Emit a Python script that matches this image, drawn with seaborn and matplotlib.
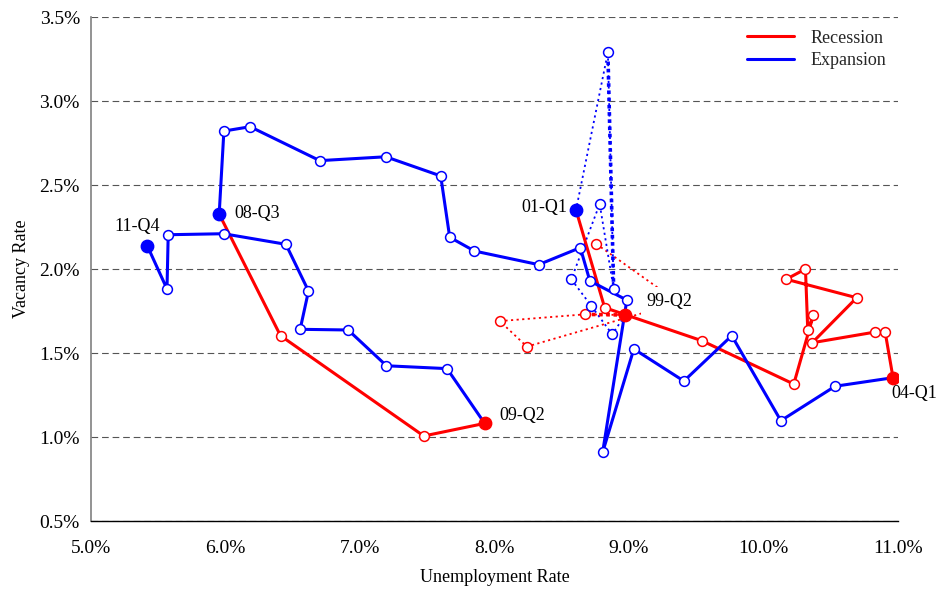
import matplotlib
matplotlib.use("Agg")
import matplotlib.pyplot as plt
from matplotlib.lines import Line2D
from matplotlib.ticker import FuncFormatter, MultipleLocator
import seaborn as sns

RED = "#FF0000"
BLUE = "#0000FF"

# Quarterly unemployment rate (%) and vacancy rate (%), split by cycle phase.
# Each phase starts at the last quarter of the previous one.
rec_9899_u = [8.757, 9.370, 8.241, 8.039, 8.670, 8.972]
rec_9899_v = [2.149, 1.800, 1.538, 1.690, 1.730, 1.726]

exp_9901_u = [8.972, 8.875, 8.720, 8.571, 8.782, 8.886, 8.843, 8.606]
exp_9901_v = [1.726, 1.611, 1.780, 1.939, 2.387, 1.881, 3.290, 2.351]

rec_0104_u = [8.606, 8.819, 9.542, 10.225, 10.371, 10.329, 10.312, 10.169,
              10.693, 10.362, 10.832, 10.904, 10.963]
rec_0104_v = [2.351, 1.770, 1.573, 1.315, 1.726, 1.637, 2.000, 1.939,
              1.829, 1.561, 1.625, 1.627, 1.353]

exp_0408_u = [10.963, 10.532, 10.129, 9.764, 9.408, 9.036, 8.804, 8.984,
              8.709, 8.638, 8.328, 7.851, 7.667, 7.600, 7.192, 6.701,
              6.183, 5.988, 5.953]
exp_0408_v = [1.353, 1.302, 1.097, 1.603, 1.333, 1.524, 0.909, 1.815,
              1.929, 2.127, 2.026, 2.107, 2.189, 2.554, 2.668, 2.645,
              2.847, 2.821, 2.327]

rec_0809_u = [5.953, 6.409, 7.474, 7.927]
rec_0809_v = [2.327, 1.603, 1.006, 1.081]

exp_0911_u = [7.927, 7.647, 7.197, 6.912, 6.555, 6.617, 6.449, 5.986,
              5.574, 5.565, 5.418]
exp_0911_v = [1.081, 1.407, 1.424, 1.637, 1.641, 1.869, 2.147, 2.210,
              2.204, 1.881, 2.139]

# Quarter that closes each phase, with label offset in pixels
end_labels = ["99-Q2", "01-Q1", "04-Q1", "08-Q3", "09-Q2", "11-Q4"]
label_dx = [44, -32, 21, 38, 38, -10]
label_dy = [14, 3, -16, 1, 8, 19]

phases = [
    (rec_9899_u, rec_9899_v, RED, "dotted"),
    (exp_9901_u, exp_9901_v, BLUE, "dotted"),
    (rec_0104_u, rec_0104_v, RED, "solid"),
    (exp_0408_u, exp_0408_v, BLUE, "solid"),
    (rec_0809_u, rec_0809_v, RED, "solid"),
    (exp_0911_u, exp_0911_v, BLUE, "solid"),
]

sns.set_theme(style="white")
plt.rcParams["font.family"] = ["Liberation Serif", "DejaVu Serif"]
plt.rcParams["font.size"] = 13

fig = plt.figure(figsize=(9.4, 5.9), dpi=100)
ax = fig.add_axes([91 / 940, 1 - 521 / 590, (898 - 91) / 940, (521 - 17) / 590])

THIN_DOT = (0, (1.2, 1.9))
THICK_DOT = (0, (1.0, 1.0))

# connecting lines
for u, v, c, style in phases:
    if style == "solid":
        sns.lineplot(x=u, y=v, sort=False, estimator=None, color=c,
                     linewidth=2.2, ax=ax, legend=False, zorder=2)
    else:
        sns.lineplot(x=u, y=v, sort=False, estimator=None, color=c,
                     linewidth=1.3, linestyle=THIN_DOT, ax=ax,
                     legend=False, zorder=2)

# heavier dotted stretches
sns.lineplot(x=rec_9899_u[4:6], y=rec_9899_v[4:6], sort=False, estimator=None,
             color=RED, linewidth=2.6, linestyle=THICK_DOT, ax=ax,
             legend=False, zorder=2)
sns.lineplot(x=exp_9901_u[5:7], y=exp_9901_v[5:7], sort=False, estimator=None,
             color=BLUE, linewidth=2.6, linestyle=THICK_DOT, ax=ax,
             legend=False, zorder=2)

# open markers for interior quarters
for i, (u, v, c, style) in enumerate(phases):
    start = 0 if i == 0 else 1
    sns.scatterplot(x=u[start:-1], y=v[start:-1], s=50, color="white",
                    edgecolor=c, linewidth=1.1, ax=ax, legend=False, zorder=4)

# filled markers and labels at phase ends
for (u, v, c, style), lab, dx, dy in zip(phases, end_labels, label_dx, label_dy):
    sns.scatterplot(x=[u[-1]], y=[v[-1]], s=80, color=c, edgecolor=c,
                    linewidth=1.0, ax=ax, legend=False, zorder=5)
    kw = {}
    if lab == "99-Q2":
        kw["bbox"] = dict(boxstyle="square,pad=0.3", fc="white", ec="none")
    ax.annotate(lab, (u[-1], v[-1]), xytext=(dx, dy),
                textcoords="offset pixels", ha="center", va="center",
                fontsize=13, color="black", zorder=6, **kw)

ax.set_xlim(5.0, 11.0)
ax.set_ylim(0.5, 3.5)
ax.xaxis.set_major_locator(MultipleLocator(1.0))
ax.yaxis.set_major_locator(MultipleLocator(0.5))
pct = FuncFormatter(lambda val, _: f"{val:.1f}%")
ax.xaxis.set_major_formatter(pct)
ax.yaxis.set_major_formatter(pct)

ax.yaxis.grid(True, linestyle=(0, (6, 3.5)), color="#555555", linewidth=0.8)
ax.xaxis.grid(False)
ax.set_axisbelow(True)

for side in ("top", "right"):
    ax.spines[side].set_visible(False)
ax.spines["left"].set_color("#808080")
ax.spines["left"].set_linewidth(1.2)
ax.spines["bottom"].set_color("black")
ax.spines["bottom"].set_linewidth(1.0)

ax.tick_params(axis="x", direction="inout", length=6, width=0.8,
               color="black", pad=11, labelsize=14, labelcolor="black")
ax.tick_params(axis="y", direction="out", length=4, width=0.8,
               color="#808080", pad=4, labelsize=14, labelcolor="black")

ax.set_xlabel("Unemployment Rate", fontsize=13, labelpad=8, color="black")
ax.set_ylabel("Vacancy Rate", fontsize=13, labelpad=7, color="black")

handles = [Line2D([], [], color=RED, linewidth=2.2),
           Line2D([], [], color=BLUE, linewidth=2.2)]
ax.legend(handles, ["Recession", "Expansion"], loc="upper right",
          bbox_to_anchor=(0.985, 0.975), frameon=False, fontsize=13,
          handlelength=2.6, handletextpad=0.9, labelspacing=0.3,
          borderpad=0.0, borderaxespad=0.0)

fig.savefig("out.png", dpi=100)
